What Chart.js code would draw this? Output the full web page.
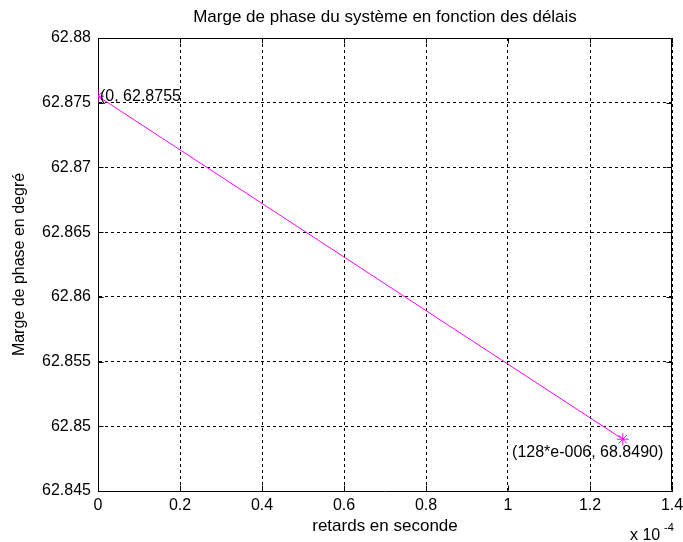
<!DOCTYPE html>
<html>
<head>
<meta charset="utf-8">
<script src="https://cdn.jsdelivr.net/npm/chart.js@4/dist/chart.umd.min.js"></script>
<style>
  body { margin: 0; background: #ffffff; }
</style>
</head>
<body>
<canvas id="myPlot1" width="683" height="542"></canvas>
<script>
// retards en seconde (axe en unités de 1e-4 s)
const retards = [0, 1.28]
// marge de phase en degré
const marges = [62.8755, 62.849]
// étiquettes placées sur le tracé
const annotTexts = ['(0, 62.8755', '(128*e-006, 68.8490)']
const annotX = [0, 1.005]
const annotY = [62.8755, 62.848]
const titre = 'Marge de phase du système en fonction des délais'

const FONT = '"Liberation Sans", Arial, sans-serif'

function fmtTick(v) {
    return parseFloat(v.toFixed(4)).toString()
}

const matlabBox = {
    id: 'matlabBox',
    beforeDraw: (chart) => {
        const {ctx} = chart
        ctx.save()
        ctx.fillStyle = '#ffffff'
        ctx.fillRect(0, 0, chart.width, chart.height)
        ctx.restore()
    },
    afterDraw: (chart) => {
        const {ctx, chartArea: a} = chart
        const xs = chart.scales.x, ys = chart.scales.y
        const L = Math.round(a.left) + 0.5, R = Math.round(a.right) - 0.5
        const T = Math.round(a.top) + 0.5, B = Math.round(a.bottom) - 0.5
        ctx.save()
        ctx.strokeStyle = '#000000'
        ctx.lineWidth = 1
        ctx.setLineDash([])
        ctx.beginPath()
        ctx.moveTo(L, T); ctx.lineTo(R, T); ctx.lineTo(R, B)
        // petites graduations vers l'intérieur
        xs.ticks.forEach(t => {
            const p = Math.round(xs.getPixelForValue(t.value)) + 0.5
            ctx.moveTo(p, B); ctx.lineTo(p, B - 5)
            ctx.moveTo(p, T); ctx.lineTo(p, T + 5)
        })
        ys.ticks.forEach(t => {
            const p = Math.round(ys.getPixelForValue(t.value)) + 0.5
            ctx.moveTo(L, p); ctx.lineTo(L + 5, p)
            ctx.moveTo(R, p); ctx.lineTo(R - 5, p)
        })
        ctx.stroke()

        ctx.fillStyle = '#000000'
        ctx.font = '17px ' + FONT
        // titre centré sur la zone de tracé
        ctx.textAlign = 'center'
        ctx.textBaseline = 'middle'
        ctx.fillText(titre, (a.left + a.right) / 2, 17)

        ctx.font = '16px ' + FONT
        ctx.textAlign = 'left'
        annotTexts.forEach((txt, i) => {
            ctx.fillText(txt, xs.getPixelForValue(annotX[i]) + 2, ys.getPixelForValue(annotY[i]))
        })

        // facteur d'échelle de l'axe x
        ctx.fillText('x 10', 630, 536)
        ctx.font = '11px ' + FONT
        ctx.fillText('-4', 664, 528)
        ctx.restore()
    }
}

new Chart(
    "myPlot1",
    {
        type: "line",
        data: {
            datasets: [{
                data: retards.map((r, i) => ({x: r, y: marges[i]})),
                borderColor: '#ff00ff',
                backgroundColor: '#ff00ff',
                borderWidth: 1,
                pointStyle: 'star',
                pointRadius: 6,
                pointBorderColor: '#ff00ff',
                pointBorderWidth: 1,
                fill: false,
                tension: 0
            }]
        },
        options: {
            responsive: false,
            animation: false,
            layout: {
                padding: {left: 0, right: 11, top: 38, bottom: 0}
            },
            scales: {
                x: {
                    type: 'linear',
                    min: 0,
                    max: 1.4,
                    afterFit: (scale) => {
                        scale.height = 51
                        scale.paddingLeft = 0
                        scale.paddingRight = 0
                    },
                    ticks: {
                        stepSize: 0.2,
                        color: '#000000',
                        font: {size: 16, family: FONT},
                        padding: 5,
                        maxRotation: 0,
                        callback: (v) => fmtTick(v)
                    },
                    grid: {color: '#000000', lineWidth: 1, drawTicks: false},
                    border: {display: true, color: '#000000', width: 1, dash: [3, 3]},
                    title: {
                        display: true,
                        text: 'retards en seconde',
                        color: '#000000',
                        font: {size: 17, family: FONT},
                        padding: {top: 0, bottom: 5}
                    }
                },
                y: {
                    min: 62.845,
                    max: 62.88,
                    afterFit: (scale) => {
                        scale.width = 98
                        scale.paddingTop = 0
                        scale.paddingBottom = 0
                    },
                    ticks: {
                        stepSize: 0.005,
                        color: '#000000',
                        font: {size: 16, family: FONT},
                        padding: 7,
                        callback: (v) => fmtTick(v)
                    },
                    grid: {color: '#000000', lineWidth: 1, drawTicks: false},
                    border: {display: true, color: '#000000', width: 1, dash: [3, 3]},
                    title: {
                        display: true,
                        text: 'Marge de phase en degré',
                        color: '#000000',
                        font: {size: 16, family: FONT},
                        padding: {top: 10, bottom: 0}
                    }
                }
            },
            plugins: {
                legend: {display: false},
                tooltip: {enabled: false},
                title: {display: false}
            }
        },
        plugins: [matlabBox]
    }
)
</script>
</body>
</html>
